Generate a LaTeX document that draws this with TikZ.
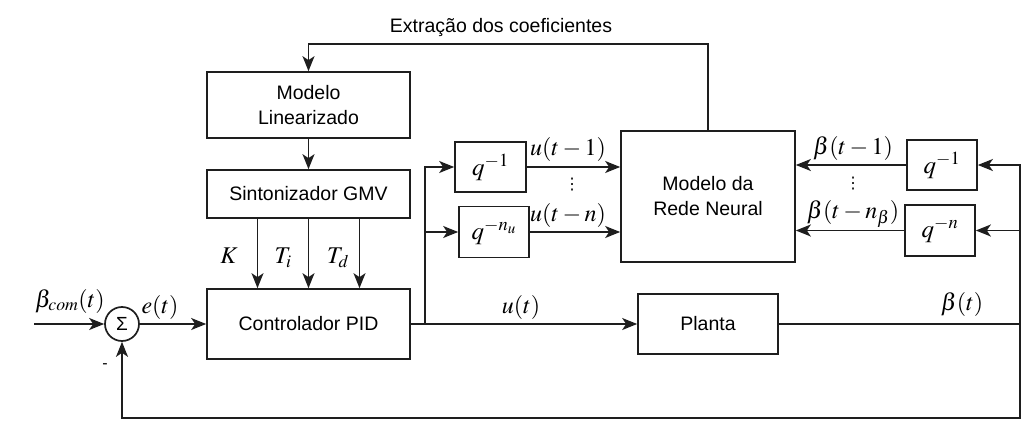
\documentclass[tikz,border=0pt]{standalone}
\usepackage{mathptmx}
\usepackage{fontspec}
\setmainfont{Liberation Sans}
\newfontfamily\dejavu{DejaVu Sans}
\usetikzlibrary{arrows.meta}
\definecolor{ln}{HTML}{1E1E1E}
\begin{document}
\begin{tikzpicture}[x=1pt,y=-1pt,line width=1.7pt,draw=ln,
  >={Stealth[length=15pt,width=12pt,inset=4pt]},
  blk/.style={draw=ln,line width=1.7pt,inner sep=0pt,align=center,font=\fontsize{19.5}{25}\selectfont},
  lbl/.style={inner sep=0pt,font=\fontsize{24}{26}\selectfont},
  qlbl/.style={font=\fontsize{25}{28}\selectfont},
  dotlbl/.style={inner sep=0pt,font=\dejavu\fontsize{16}{17}\selectfont}]
\useasboundingbox (0,0) rectangle (1034,431);
% blocks
\node[blk,minimum width=203pt,minimum height=66pt] (lin) at (308.5,105) {Modelo\\Linearizado};
\node[blk,minimum width=203pt,minimum height=48pt] (gmv) at (308.5,194) {Sintonizador GMV};
\node[blk,minimum width=203pt,minimum height=70pt] (pid) at (308.5,324) {Controlador PID};
\node[blk,minimum width=140pt,minimum height=60pt] (planta) at (708,324) {Planta};
\node[blk,minimum width=174pt,minimum height=131pt] (rede) at (708,196.5) {Modelo da\\Rede Neural};
\node[blk,minimum width=71pt,minimum height=50pt,qlbl] (qa) at (490.5,167) {$q^{-1}$};
\node[blk,minimum width=70pt,minimum height=51pt,qlbl] (qb) at (494,232) {$q^{-n_u}$};
\node[blk,minimum width=70pt,minimum height=50pt,qlbl] (qc) at (942,165) {$q^{-1}$};
\node[blk,minimum width=70pt,minimum height=51pt,qlbl] (qd) at (940,230.5) {$q^{-n}$};
\node[draw=ln,circle,line width=1.7pt,minimum size=34pt,inner sep=0pt,font=\fontsize{19}{21}\selectfont] (sum) at (122,324) {Σ};
% coordinates
\coordinate (in) at (34,324);
\coordinate (br) at (425,324);
\coordinate (rt) at (1020,324);
\coordinate (top) at (708,44);
\coordinate (bot) at (1020,418);
% connectors
\draw[->] (rede.north) -- (top) -| (lin.north);
\node[font=\fontsize{19.5}{22}\selectfont] (ext) at (501,28) {Extração dos coeficientes};
\draw[->] (lin) -- (gmv);
\draw[->] ([xshift=-51pt]gmv.south) -- ([xshift=-51pt]pid.north);
\draw[->] (gmv.south) -- (pid.north);
\draw[->] ([xshift=51pt]gmv.south) -- ([xshift=51pt]pid.north);
\node[lbl] (k) at (229,256) {$K$};
\node[lbl] (ti) at (283,258) {$T_i$};
\node[lbl] (td) at (338,258) {$T_d$};
\draw[->] (in) -- (sum.west);
\node[lbl] (bcom) at (70,301) {$\beta_{com}(t)$};
\draw[->] (sum.east) -- (pid.west);
\node[lbl] (et) at (160,307) {$e(t)$};
\draw[->] (pid.east) -- (planta.west);
\node[lbl] (ut) at (521,307) {$u(t)$};
\draw[->] (br) |- (qa.west);
\draw[->] (br) |- (qb.west);
\draw[->] (qa.east) -- (qa.east -| rede.west);
\draw[->] (qb.east) -- (qb.east -| rede.west);
\node[lbl] (u1) at (568,149) {$u(t-1)$};
\node[lbl] (un) at (568,215) {$u(t-n)$};
\node[dotlbl] (d1) at (572,185) {⋮};
\draw (planta.east) -- (rt);
\node[lbl] (bt) at (962,304) {$\beta(t)$};
\draw[->] (rt) -- (bot) -| (sum.south);
\draw[->] (rt) |- (qc.east);
\draw[->] (rt) |- (qd.east);
\draw[->] (qc.west) -- (qc.west -| rede.east);
\draw[->] (qd.west) -- (qd.west -| rede.east);
\node[lbl] (b1) at (853,148) {$\beta(t-1)$};
\node[lbl] (bn) at (853,214) {$\beta(t-n_\beta)$};
\node[dotlbl] (d2) at (853,184) {⋮};
\node[font=\fontsize{16}{18}\selectfont] (minus) at (105,366) {-};
\end{tikzpicture}
\end{document}
